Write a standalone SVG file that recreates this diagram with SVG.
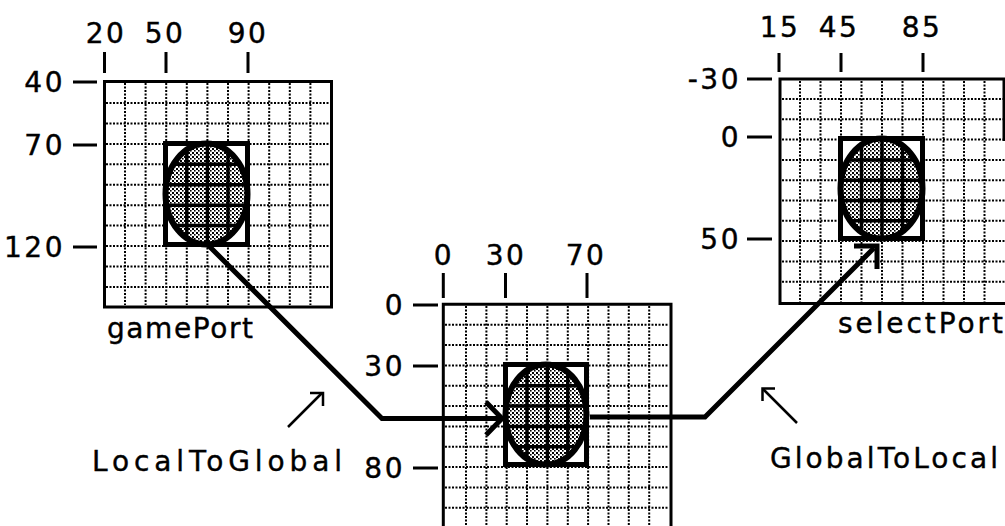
<svg xmlns="http://www.w3.org/2000/svg" width="1005" height="526" viewBox="0 0 1005 526">
<style>
.frame{fill:#fff;stroke:#000;stroke-width:3}
.grid{fill:none;stroke:#000;stroke-width:2;stroke-dasharray:2 1.5}
.box{fill:#fff;stroke:#000;stroke-width:5}
.oval{fill:url(#stip)}
.ovalrim{fill:none;stroke:#000;stroke-width:6}
.inner{fill:none;stroke:#000;stroke-width:3.5}
.tick{fill:none;stroke:#000;stroke-width:3}
.num{font-family:"DejaVu Sans",sans-serif;font-size:28px;letter-spacing:2.5px;fill:#000;stroke:#000;stroke-width:0.4}
.word{font-family:"DejaVu Sans",sans-serif;font-size:28px;fill:#000;stroke:#000;stroke-width:0.4}
.conn{fill:none;stroke:#000;stroke-width:5;stroke-linejoin:miter}
.thin{fill:none;stroke:#000;stroke-width:2.5}
</style>
<defs>
<pattern id="stip" width="4" height="4" patternUnits="userSpaceOnUse">
<rect width="4" height="4" fill="#fff"/>
<rect x="0" y="0" width="2" height="2" fill="#000"/>
<rect x="2" y="2" width="1.6" height="1.6" fill="#000"/>
</pattern>
<clipPath id="cL"><ellipse cx="206.5" cy="194" rx="41" ry="50.5"/></clipPath>
<clipPath id="cM"><ellipse cx="546" cy="414.5" rx="40.5" ry="50"/></clipPath>
<clipPath id="cR"><ellipse cx="881.5" cy="188.5" rx="41" ry="50"/></clipPath>
</defs>

<g id="gamePort">
<rect class="frame" x="104.5" y="81.5" width="227" height="225.5"/>
<path class="grid" d="M125,83V305M145.6,83V305M166.2,83V305M186.8,83V305M207.4,83V305M228,83V305M248.6,83V305M269.2,83V305M289.8,83V305M310.4,83V305M106,103H330M106,123.4H330M106,143.9H330M106,164.3H330M106,184.8H330M106,205.2H330M106,225.6H330M106,246.1H330M106,266.5H330M106,287H330"/>
<rect class="box" x="165.5" y="143.5" width="82" height="101"/>
<ellipse class="oval" cx="206.5" cy="194" rx="41" ry="50.5"/>
<path class="inner" clip-path="url(#cL)" d="M186.8,140V250M207.4,140V250M228,140V250M160,164.3H255M160,184.8H255M160,205.2H255M160,225.6H255"/>
<ellipse class="ovalrim" cx="206.5" cy="194" rx="41" ry="50.5"/>
<rect class="box" style="fill:none" x="165.5" y="143.5" width="82" height="101"/>
<path class="tick" d="M104.5,52V73M166,52V73M248,52V73M73,82H97M73,145H97M73,247H97"/>
<text class="num" x="106" y="43" text-anchor="middle">20</text>
<text class="num" x="165" y="43" text-anchor="middle">50</text>
<text class="num" x="248" y="43" text-anchor="middle">90</text>
<text class="num" x="65" y="92" text-anchor="end">40</text>
<text class="num" x="65" y="155" text-anchor="end">70</text>
<text class="num" x="65" y="257" text-anchor="end">120</text>
<text class="word" x="107" y="338" textLength="146" lengthAdjust="spacing">gamePort</text>
</g>

<g id="globalPort">
<rect x="443.3" y="304.3" width="227.7" height="230" fill="#fff"/>
<path class="grid" d="M466,306V526M486.4,306V526M506.7,306V526M527,306V526M547.4,306V526M567.8,306V526M588.1,306V526M608.5,306V526M628.8,306V526M649.2,306V526M445,324.7H669M445,345H669M445,365.4H669M445,385.7H669M445,406H669M445,426.4H669M445,446.8H669M445,467.1H669M445,487.5H669M445,507.8H669"/>
<path class="tick" d="M443.3,530V304.3H671V530"/>
<rect class="box" x="505.5" y="364.5" width="81" height="100"/>
<ellipse class="oval" cx="546" cy="414.5" rx="40.5" ry="50"/>
<path class="inner" clip-path="url(#cM)" d="M527,360V470M547.4,360V470M567.8,360V470M500,385.7H595M500,406H595M500,426.4H595M500,446.8H595"/>
<ellipse class="ovalrim" cx="546" cy="414.5" rx="40.5" ry="50"/>
<rect class="box" style="fill:none" x="505.5" y="364.5" width="81" height="100"/>
<path class="tick" d="M443.3,273V298M505.5,273V298M587,273V298M413,305H438M413,366H438M413,468H438"/>
<text class="num" x="444" y="265" text-anchor="middle">0</text>
<text class="num" x="506" y="265" text-anchor="middle">30</text>
<text class="num" x="586" y="265" text-anchor="middle">70</text>
<text class="num" x="405" y="315" text-anchor="end">0</text>
<text class="num" x="405" y="376" text-anchor="end">30</text>
<text class="num" x="405" y="478" text-anchor="end">80</text>
</g>

<g id="selectPort">
<rect x="780" y="79" width="225" height="224.5" fill="#fff"/>
<path class="grid" d="M800,81V302M820.5,81V302M841,81V302M861.5,81V302M882,81V302M902.5,81V302M923,81V302M943.5,81V302M964,81V302M984.5,81V302M782,99H1005M782,119.3H1005M782,139.6H1005M782,159.9H1005M782,180.2H1005M782,200.5H1005M782,220.8H1005M782,241.1H1005M782,261.4H1005M782,281.7H1005"/>
<path class="tick" d="M1004,141V79H780V303.5H1005"/>
<rect class="box" x="840.5" y="138.5" width="82" height="100"/>
<ellipse class="oval" cx="881.5" cy="188.5" rx="41" ry="50"/>
<path class="inner" clip-path="url(#cR)" d="M861.5,135V245M882,135V245M902.5,135V245M835,159.9H930M835,180.2H930M835,200.5H930M835,220.8H930"/>
<ellipse class="ovalrim" cx="881.5" cy="188.5" rx="41" ry="50"/>
<rect class="box" style="fill:none" x="840.5" y="138.5" width="82" height="100"/>
<path class="tick" d="M779,53V72M841,53V72M923,53V72M747,79H772M747,137H772M747,239H772"/>
<text class="num" x="780" y="37" text-anchor="middle">15</text>
<text class="num" x="839" y="37" text-anchor="middle">45</text>
<text class="num" x="922" y="37" text-anchor="middle">85</text>
<text class="num" x="741" y="89" text-anchor="end">-30</text>
<text class="num" x="741" y="147" text-anchor="end">0</text>
<text class="num" x="741" y="249" text-anchor="end">50</text>
<text class="word" x="838" y="333" textLength="165" lengthAdjust="spacing">selectPort</text>
</g>

<g id="connectors">
<path class="conn" d="M205,242L382,418.5H500"/>
<path class="conn" d="M486,402L502,418.5L486,435"/>
<path class="conn" d="M590,417H705L874,248"/>
<path class="conn" d="M854,246H877V269"/>
<path class="thin" d="M288,427L322,393"/>
<path class="thin" d="M310,393H323V406"/>
<path class="thin" d="M797,423L763,389"/>
<path class="thin" d="M775,388.5H762.5V401"/>
</g>

<g id="labels">
<text class="word" x="92" y="471" textLength="250" lengthAdjust="spacing">LocalToGlobal</text>
<text class="word" x="770" y="468" textLength="228" lengthAdjust="spacing">GlobalToLocal</text>
</g>
</svg>
